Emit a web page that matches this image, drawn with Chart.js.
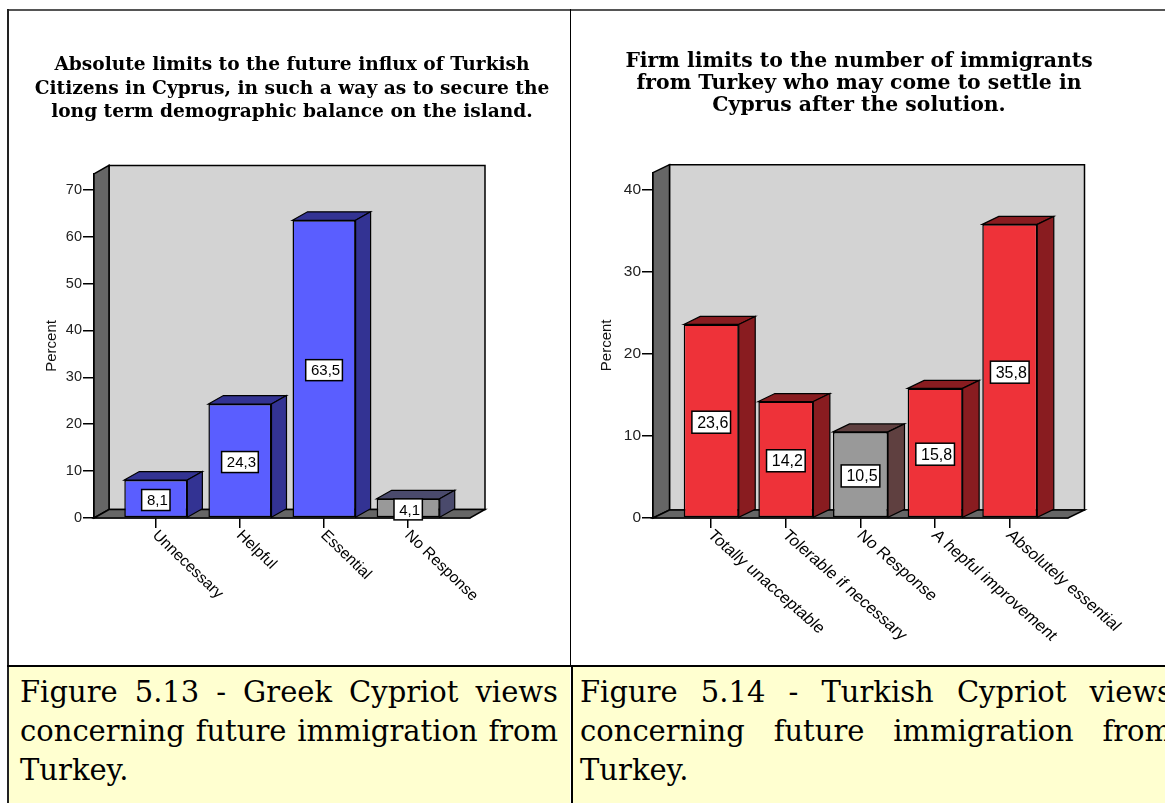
<!DOCTYPE html>
<html>
<head>
<meta charset="utf-8">
<script src="https://cdn.jsdelivr.net/npm/chart.js@4.4.1/dist/chart.umd.min.js"></script>
<style>
  html, body { margin: 0; padding: 0; background: #fff; }
  body { width: 1165px; height: 803px; position: relative; overflow: hidden; }
  .chart-box { position: absolute; top: 10px; width: 550px; height: 650px; }
  .caption {
    position: absolute; top: 667px; height: 140px; box-sizing: border-box;
    background: #ffffd0; color: #000; padding-top: 6px;
    font-family: "DejaVu Serif", serif; font-size: 29px; line-height: 39px;
    text-align: justify;
  }
  .rule { position: absolute; background: #000; }
</style>
</head>
<body>
<div class="chart-box" style="left:17px"><canvas id="greekChart"></canvas></div>
<div class="chart-box" style="left:584px"><canvas id="turkishChart"></canvas></div>

<div class="caption" style="left:8px; width:562px; padding-left:12px; padding-right:12px;">Figure 5.13 - Greek Cypriot views concerning future immigration from Turkey.</div>
<div class="caption" style="left:573px; width:610px; padding-left:7px; padding-right:11px;">Figure 5.14 - Turkish Cypriot views concerning future immigration from Turkey.</div>

<div class="rule" style="left:7px; top:9px; width:1158px; height:2px; background:#555;"></div>
<div class="rule" style="left:7px; top:9px; width:2px; height:794px; background:#222;"></div>
<div class="rule" style="left:570px; top:9px; width:1px; height:657px;"></div>
<div class="rule" style="left:7px; top:665px; width:1158px; height:2px;"></div>
<div class="rule" style="left:571px; top:667px; width:2px; height:136px;"></div>

<script>
// Greek Cypriot responses
const greekTitle = [
  'Absolute limits to the future influx of Turkish',
  'Citizens in Cyprus, in such a way as to secure the',
  'long term demographic balance on the island.'
];
const greekCategories = ['Unnecessary', 'Helpful', 'Essential', 'No Response'];
const greekValues = [8.1, 24.3, 63.5, 4.1];
const greekTicks = [0, 10, 20, 30, 40, 50, 60, 70];

// Turkish Cypriot responses
const turkishTitle = [
  'Firm limits to the number of immigrants',
  'from Turkey who may come to settle in',
  'Cyprus after the solution.'
];
const turkishCategories = ['Totally unacceptable', 'Tolerable if necessary', 'No Response', 'A hepful improvement', 'Absolutely essential'];
const turkishValues = [23.6, 14.2, 10.5, 15.8, 35.8];
const turkishTicks = [0, 10, 20, 30, 40];

Chart.defaults.font.family = '"Liberation Sans", Arial, sans-serif';
Chart.defaults.color = '#222';

function poly(ctx, pts, fill) {
  ctx.beginPath();
  ctx.moveTo(pts[0][0], pts[0][1]);
  for (let i = 1; i < pts.length; i++) ctx.lineTo(pts[i][0], pts[i][1]);
  ctx.closePath();
  ctx.fillStyle = fill;
  ctx.fill();
  ctx.stroke();
}

// fake 3D: walls, floor, bar sides, value boxes and slanted category labels
const box3d = {
  id: 'box3d',
  beforeDatasetsDraw(chart, args, opts) {
    const { ctx, chartArea: a } = chart;
    const { dx, dy } = opts;
    ctx.save();
    ctx.lineWidth = 1.5;
    ctx.strokeStyle = '#000';
    poly(ctx, [[a.left + dx, a.top - dy], [a.right + dx, a.top - dy], [a.right + dx, a.bottom - dy], [a.left + dx, a.bottom - dy]], '#d3d3d3');
    poly(ctx, [[a.left, a.top], [a.left + dx, a.top - dy], [a.left + dx, a.bottom - dy], [a.left, a.bottom]], '#666666');
    poly(ctx, [[a.left, a.bottom], [a.left + dx, a.bottom - dy], [a.right + dx, a.bottom - dy], [a.right, a.bottom]], '#666666');
    ctx.restore();
  },
  afterDatasetsDraw(chart, args, opts) {
    const { ctx } = chart;
    const { dx, dy } = opts;
    const meta = chart.getDatasetMeta(0);
    const points = chart.data.datasets[0].data;
    const yScale = chart.scales.y;
    ctx.save();
    ctx.lineWidth = 1.2;
    ctx.strokeStyle = '#000';
    meta.data.forEach((bar, i) => {
      const { x, y, base, width } = bar.getProps(['x', 'y', 'base', 'width'], true);
      const l = x - width / 2, r = x + width / 2;
      poly(ctx, [[l, y], [l + dx, y - dy], [r + dx, y - dy], [r, y]], opts.sideColors[i]);
      poly(ctx, [[r, y], [r + dx, y - dy], [r + dx, base - dy], [r, base]], opts.sideColors[i]);
    });

    ctx.font = opts.valueFont;
    ctx.textAlign = 'center';
    ctx.textBaseline = 'middle';
    ctx.lineWidth = 1.5;
    meta.data.forEach((bar, i) => {
      const v = points[i].y;
      const txt = v.toFixed(1).replace('.', ',');
      const cy = yScale.getPixelForValue(v / 2) + 1;
      const w = ctx.measureText(txt).width + 7.5;
      const h = opts.boxHeight;
      ctx.fillStyle = '#fff';
      ctx.fillRect(bar.x - w / 2, cy - h / 2, w, h);
      ctx.strokeRect(bar.x - w / 2, cy - h / 2, w, h);
      ctx.fillStyle = '#000';
      ctx.fillText(txt, bar.x + 1.5, cy + 1);
    });
    ctx.restore();
  },
  afterDraw(chart, args, opts) {
    const { ctx, chartArea: a } = chart;
    const xs = chart.scales.x;
    ctx.save();
    ctx.font = opts.labelFont;
    ctx.fillStyle = '#000';
    ctx.textAlign = 'left';
    ctx.textBaseline = 'middle';
    opts.categories.forEach((c, i) => {
      const px = xs.getPixelForValue(i);
      ctx.save();
      ctx.translate(px - 1, a.bottom + 15);
      ctx.scale(opts.stretch, 1);
      ctx.rotate(Math.PI / 4);
      ctx.fillText(c, 0, 0);
      ctx.restore();
    });
    ctx.restore();
  }
};

function makeChart(id, cfg) {
  return new Chart(document.getElementById(id), {
    type: 'bar',
    data: {
      datasets: [{
        data: cfg.values.map((v, i) => ({ x: i, y: v })),
        backgroundColor: cfg.fronts,
        borderColor: '#000',
        borderWidth: 1.5,
        borderSkipped: false,
        barPercentage: cfg.barPct,
        categoryPercentage: 1
      }]
    },
    options: {
      responsive: true,
      maintainAspectRatio: false,
      animation: false,
      devicePixelRatio: 1,
      layout: { padding: 0 },
      plugins: {
        legend: { display: false },
        tooltip: { enabled: false },
        title: {
          display: true,
          text: cfg.title,
          color: '#000',
          font: { family: '"DejaVu Serif", serif', weight: 'bold', size: cfg.titleSize, lineHeight: cfg.titleLine },
          padding: { top: cfg.titleTop, bottom: cfg.titleBottom }
        },
        box3d: {
          dx: cfg.dx, dy: cfg.dy,
          sideColors: cfg.sides,
          categories: cfg.categories,
          valueFont: cfg.valueFont,
          labelFont: '15.3px "Liberation Sans", Arial, sans-serif',
          stretch: cfg.labelStretch,
          boxHeight: cfg.boxHeight
        }
      },
      scales: {
        x: {
          type: 'linear',
          offset: false,
          min: cfg.xMin,
          max: cfg.xMax,
          afterBuildTicks: s => { s.ticks = cfg.categories.map((c, i) => ({ value: i })); },
          afterFit: s => { s.height = 142; },
          ticks: { display: false },
          grid: { offset: false, drawOnChartArea: false, drawTicks: true, tickLength: 10, color: '#000', lineWidth: 1.5 },
          border: { display: true, color: '#000', width: 1.5 }
        },
        y: {
          min: 0,
          max: cfg.yMax,
          afterBuildTicks: s => { s.ticks = cfg.ticks.map(v => ({ value: v })); },
          afterFit: s => { s.width = cfg.yWidth; },
          ticks: { font: { size: cfg.tickSize }, color: '#222', padding: 1 },
          grid: { drawOnChartArea: false, tickLength: 11, color: '#000', lineWidth: 1.5 },
          border: { display: true, color: '#000', width: 1.5 },
          title: { display: true, text: 'Percent', color: '#111', font: { size: 15 }, padding: { top: cfg.percentPad } }
        },
        // empty right-hand strip so the title stays centred on the canvas
        gutter: {
          type: 'linear',
          position: 'right',
          afterFit: s => { s.width = cfg.gutter; },
          ticks: { display: false },
          grid: { display: false },
          border: { display: false }
        }
      }
    },
    plugins: [box3d]
  });
}

makeChart('greekChart', {
  title: greekTitle, titleSize: 18.6, titleLine: 23.3 / 18.6, titleTop: 44, titleBottom: 50,
  categories: greekCategories, values: greekValues, ticks: greekTicks,
  fronts: ['#5a5eff', '#5a5eff', '#5a5eff', '#999999'],
  sides: ['#333393', '#333393', '#333393', '#4a4a6c'],
  yMax: 73.4, xMin: -0.735, xMax: 3.735, barPct: 0.75,
  yWidth: 77, gutter: 97, percentPad: 26, labelStretch: 1.04,
  dx: 15, dy: 8.5, tickSize: 14.5, valueFont: '15px "Liberation Sans", Arial, sans-serif', boxHeight: 21
});

makeChart('turkishChart', {
  title: turkishTitle, titleSize: 20.4, titleLine: 21.7 / 20.4, titleTop: 41, titleBottom: 56.6,
  categories: turkishCategories, values: turkishValues, ticks: turkishTicks,
  fronts: ['#ee3239', '#ee3239', '#999999', '#ee3239', '#ee3239'],
  sides: ['#891c20', '#891c20', '#5f4040', '#891c20', '#891c20'],
  yMax: 42.1, xMin: -0.78, xMax: 4.78, barPct: 0.737,
  yWidth: 69, gutter: 66, percentPad: 13.5, labelStretch: 1.14,
  dx: 16.5, dy: 8, tickSize: 15.5, valueFont: '16px "Liberation Sans", Arial, sans-serif', boxHeight: 22
});
</script>
</body>
</html>
